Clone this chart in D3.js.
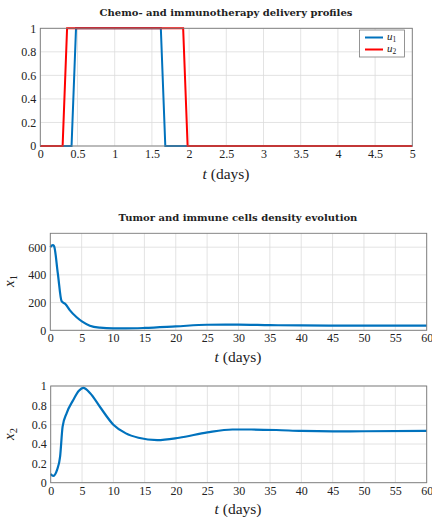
<!DOCTYPE html>
<html>
<head>
<meta charset="utf-8">
<script src="https://cdn.jsdelivr.net/npm/d3@7"></script>
<style>
  body { margin: 0; background: #fff; }
  text { font-family: "Liberation Serif", serif; fill: #222; }
  .grid line { stroke: #dcdcdc; stroke-width: 0.8; }
  .frame { fill: none; stroke: #7a7a7a; stroke-width: 0.9; }
  .title { font-family: "DejaVu Serif", serif; font-weight: bold; font-size: 10px; }
</style>
</head>
<body>
<div id="chart"></div>
<script>
// delivery profiles (days, on/off)
var u1Time = [0, 0.42, 0.48, 1.62, 1.68, 5];
var u1Vals = [0, 0, 1, 1, 0, 0];
var u2Time = [0, 0.30, 0.36, 1.92, 1.98, 5];
var u2Vals = [0, 0, 1, 1, 0, 0];

// tumor cells x1
var x1Time = [0, 0.4, 0.6, 1.2, 1.8, 2.4, 3.1, 4.2, 5.1, 6.3, 7.9, 10, 12, 15, 20, 25, 30, 35, 40, 50, 60];
var x1Vals = [600, 615, 608, 410, 210, 190, 146, 94, 62, 33, 19, 14, 14, 17, 28, 40, 41, 37, 35, 34, 34];

// immune cells x2
var x2Time = [0, 0.4, 1.0, 1.5, 1.9, 2.55, 3.6, 4.5, 5.2, 6.3, 7.9, 10, 12, 14, 17, 20.5, 25, 29, 32, 36, 40, 45, 50, 60];
var x2Vals = [0.09, 0.07, 0.13, 0.27, 0.58, 0.72, 0.855, 0.95, 0.98, 0.925, 0.78, 0.60, 0.51, 0.465, 0.44, 0.465, 0.52, 0.55, 0.55, 0.545, 0.535, 0.53, 0.532, 0.535];

var uTicksX = [0, 0.5, 1, 1.5, 2, 2.5, 3, 3.5, 4, 4.5, 5];
var uTicksY = [0, 0.2, 0.4, 0.6, 0.8, 1];
var tTicks = d3.range(0, 61, 5);
var x1Ticks = [0, 200, 400, 600];
var x2Ticks = [0, 0.2, 0.4, 0.6, 0.8, 1];

var svg = d3.select("#chart").append("svg")
  .attr("width", 432)
  .attr("height", 517);

var blue = "#0072BD", red = "#FF0000";

function zip(a, b) { return a.map((v, i) => [v, b[i]]); }

// draws one panel: grid and tick labels; returns scales
function panel(o) {
  var x = d3.scaleLinear().domain(o.xDomain).range([o.left, o.right]);
  var y = d3.scaleLinear().domain(o.yDomain).range([o.bottom, o.top]);
  var g = svg.append("g");

  var grid = g.append("g").attr("class", "grid");
  grid.selectAll(".gx").data(o.xTicks).enter().append("line")
    .attr("x1", d => x(d)).attr("x2", d => x(d))
    .attr("y1", o.top).attr("y2", o.bottom);
  grid.selectAll(".gy").data(o.yTicks).enter().append("line")
    .attr("x1", o.left).attr("x2", o.right)
    .attr("y1", d => y(d)).attr("y2", d => y(d));

  var xAxis = g.append("g")
    .attr("transform", `translate(0, ${o.bottom})`)
    .call(d3.axisBottom(x).tickValues(o.xTicks).tickSize(0).tickPadding(2).tickFormat(d3.format("")));
  var yAxis = g.append("g")
    .attr("transform", `translate(${o.left}, 0)`)
    .call(d3.axisLeft(y).tickValues(o.yTicks).tickSize(0).tickPadding(4).tickFormat(d3.format("")));
  [xAxis, yAxis].forEach(a => {
    a.attr("font-family", "Liberation Serif").attr("font-size", 12);
    a.select(".domain").remove();
    a.selectAll("text").attr("fill", "#222");
  });
  xAxis.selectAll("text").attr("dy", "0.85em");
  return {x: x, y: y, g: g};
}

function frame(o) {
  svg.append("rect").attr("class", "frame")
    .attr("x", o.left).attr("y", o.top)
    .attr("width", o.right - o.left).attr("height", o.bottom - o.top);
}

function xLabel(cx, cy) {
  var t = svg.append("text").attr("x", cx).attr("y", cy)
    .attr("text-anchor", "middle").style("font-size", "15.5px");
  t.append("tspan").style("font-style", "italic").text("t");
  t.append("tspan").text(" (days)");
}

function yLabel(cx, cy, sub) {
  var t = svg.append("text")
    .attr("transform", `translate(${cx}, ${cy}) rotate(-90)`)
    .attr("text-anchor", "middle").style("font-size", "15px");
  t.append("tspan").style("font-style", "italic").text("x");
  t.append("tspan").attr("dy", 3).style("font-size", "10.5px").text(sub);
}

// ---- panel 1: delivery profiles
var p1 = {left: 40.3, right: 412.3, top: 28.3, bottom: 146, xDomain: [0, 5], yDomain: [0, 1], xTicks: uTicksX, yTicks: uTicksY};
var s1 = panel(p1);
var l1 = d3.line().x(d => s1.x(d[0])).y(d => s1.y(d[1]));
svg.append("path").datum(zip(u1Time, u1Vals)).attr("d", l1)
  .attr("fill", "none").attr("stroke", blue).attr("stroke-width", 2);
svg.append("path").datum(zip(u2Time, u2Vals)).attr("d", l1)
  .attr("fill", "none").attr("stroke", red).attr("stroke-width", 2);
frame(p1);

svg.append("text").attr("class", "title").attr("x", 226).attr("y", 16)
  .attr("text-anchor", "middle")
  .text("Chemo- and immunotherapy delivery profiles");
xLabel(226, 179);

// legend
var leg = svg.append("g");
leg.append("rect").attr("x", 359.5).attr("y", 30).attr("width", 45).attr("height", 27)
  .attr("fill", "#fff").attr("stroke", "#7a7a7a").attr("stroke-width", 0.8);
[["1", blue], ["2", red]].forEach((d, i) => {
  var yy = 37.5 + i * 12;
  leg.append("line").attr("x1", 365).attr("x2", 383).attr("y1", yy).attr("y2", yy)
    .attr("stroke", d[1]).attr("stroke-width", 2);
  var t = leg.append("text").attr("x", 387).attr("y", yy + 2.5).style("font-size", "11px");
  t.append("tspan").style("font-style", "italic").text("u");
  t.append("tspan").attr("dy", 2).style("font-size", "7.5px").text(d[0]);
});

// ---- panel 2: x1
var p2 = {left: 50.3, right: 426.7, top: 233.3, bottom: 330.3, xDomain: [0, 60], yDomain: [0, 700], xTicks: tTicks, yTicks: x1Ticks};
var s2 = panel(p2);
svg.append("path").datum(zip(x1Time, x1Vals))
  .attr("d", d3.line().x(d => s2.x(d[0])).y(d => s2.y(d[1])).curve(d3.curveMonotoneX))
  .attr("fill", "none").attr("stroke", blue).attr("stroke-width", 2.2);
frame(p2);
svg.append("text").attr("class", "title").attr("x", 238).attr("y", 221)
  .attr("text-anchor", "middle")
  .text("Tumor and immune cells density evolution");
yLabel(14, 281, "1");
xLabel(238, 362);

// ---- panel 3: x2
var p3 = {left: 50.7, right: 426.7, top: 386, bottom: 482.7, xDomain: [0, 60], yDomain: [0, 1], xTicks: tTicks, yTicks: x2Ticks};
var s3 = panel(p3);
svg.append("path").datum(zip(x2Time, x2Vals))
  .attr("d", d3.line().x(d => s3.x(d[0])).y(d => s3.y(d[1])).curve(d3.curveMonotoneX))
  .attr("fill", "none").attr("stroke", blue).attr("stroke-width", 2.2);
frame(p3);
yLabel(14, 434, "2");
xLabel(238, 514);
</script>
</body>
</html>
